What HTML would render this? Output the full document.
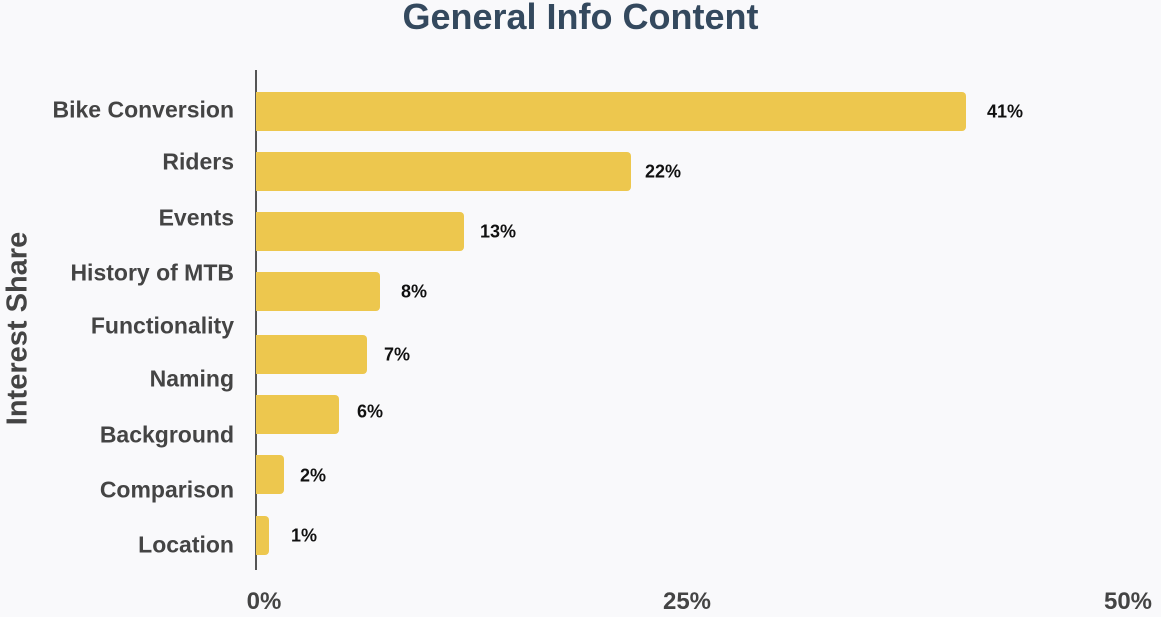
<!DOCTYPE html>
<html><head><meta charset="utf-8"><style>
html,body{margin:0;padding:0;background:#f9f9fb;}
body{width:1161px;height:617px;position:relative;overflow:hidden;font-family:"Liberation Sans",sans-serif;font-weight:bold;}
.t{position:absolute;white-space:nowrap;}
.bar{position:absolute;left:256px;height:39px;background:#edc74e;border-radius:0 4px 4px 0;}
.lab{position:absolute;right:927px;font-size:23px;color:#444;white-space:nowrap;transform:translateY(-50%);}
.val{position:absolute;font-size:18px;color:#111;transform:translateY(-50%);}
.tick{position:absolute;top:588px;font-size:24px;color:#444;transform:translateX(-50%);}
</style></head><body>
<div class="t" style="left:0;width:1161px;text-align:center;top:-4px;font-size:36px;color:#34495e;">General Info Content</div>
<div class="t" style="left:-92px;top:312px;font-size:29px;color:#444;transform:rotate(-90deg);transform-origin:center;width:220px;text-align:center;">Interest Share</div>
<div style="position:absolute;left:255px;top:70px;width:2px;height:500px;background:#555;"></div>

<div class="bar" style="top:92px;width:710px"></div>
<div class="bar" style="top:152px;width:375px"></div>
<div class="bar" style="top:212px;width:208px"></div>
<div class="bar" style="top:272px;width:124px"></div>
<div class="bar" style="top:335px;width:111px"></div>
<div class="bar" style="top:395px;width:83px"></div>
<div class="bar" style="top:455px;width:28px"></div>
<div class="bar" style="top:516px;width:13px"></div>

<div class="val" style="left:987px;top:112px">41%</div>
<div class="val" style="left:645px;top:172px">22%</div>
<div class="val" style="left:480px;top:232px">13%</div>
<div class="val" style="left:401px;top:292px">8%</div>
<div class="val" style="left:384px;top:355px">7%</div>
<div class="val" style="left:357px;top:412px">6%</div>
<div class="val" style="left:300px;top:476px">2%</div>
<div class="val" style="left:291px;top:536px">1%</div>

<div class="lab" style="top:110px">Bike Conversion</div>
<div class="lab" style="top:162px">Riders</div>
<div class="lab" style="top:218px">Events</div>
<div class="lab" style="top:273px">History of MTB</div>
<div class="lab" style="top:326px">Functionality</div>
<div class="lab" style="top:379px">Naming</div>
<div class="lab" style="top:435px">Background</div>
<div class="lab" style="top:490px">Comparison</div>
<div class="lab" style="top:545px">Location</div>

<div class="tick" style="left:264px">0%</div>
<div class="tick" style="left:687px">25%</div>
<div class="tick" style="left:1128px">50%</div>
</body></html>
